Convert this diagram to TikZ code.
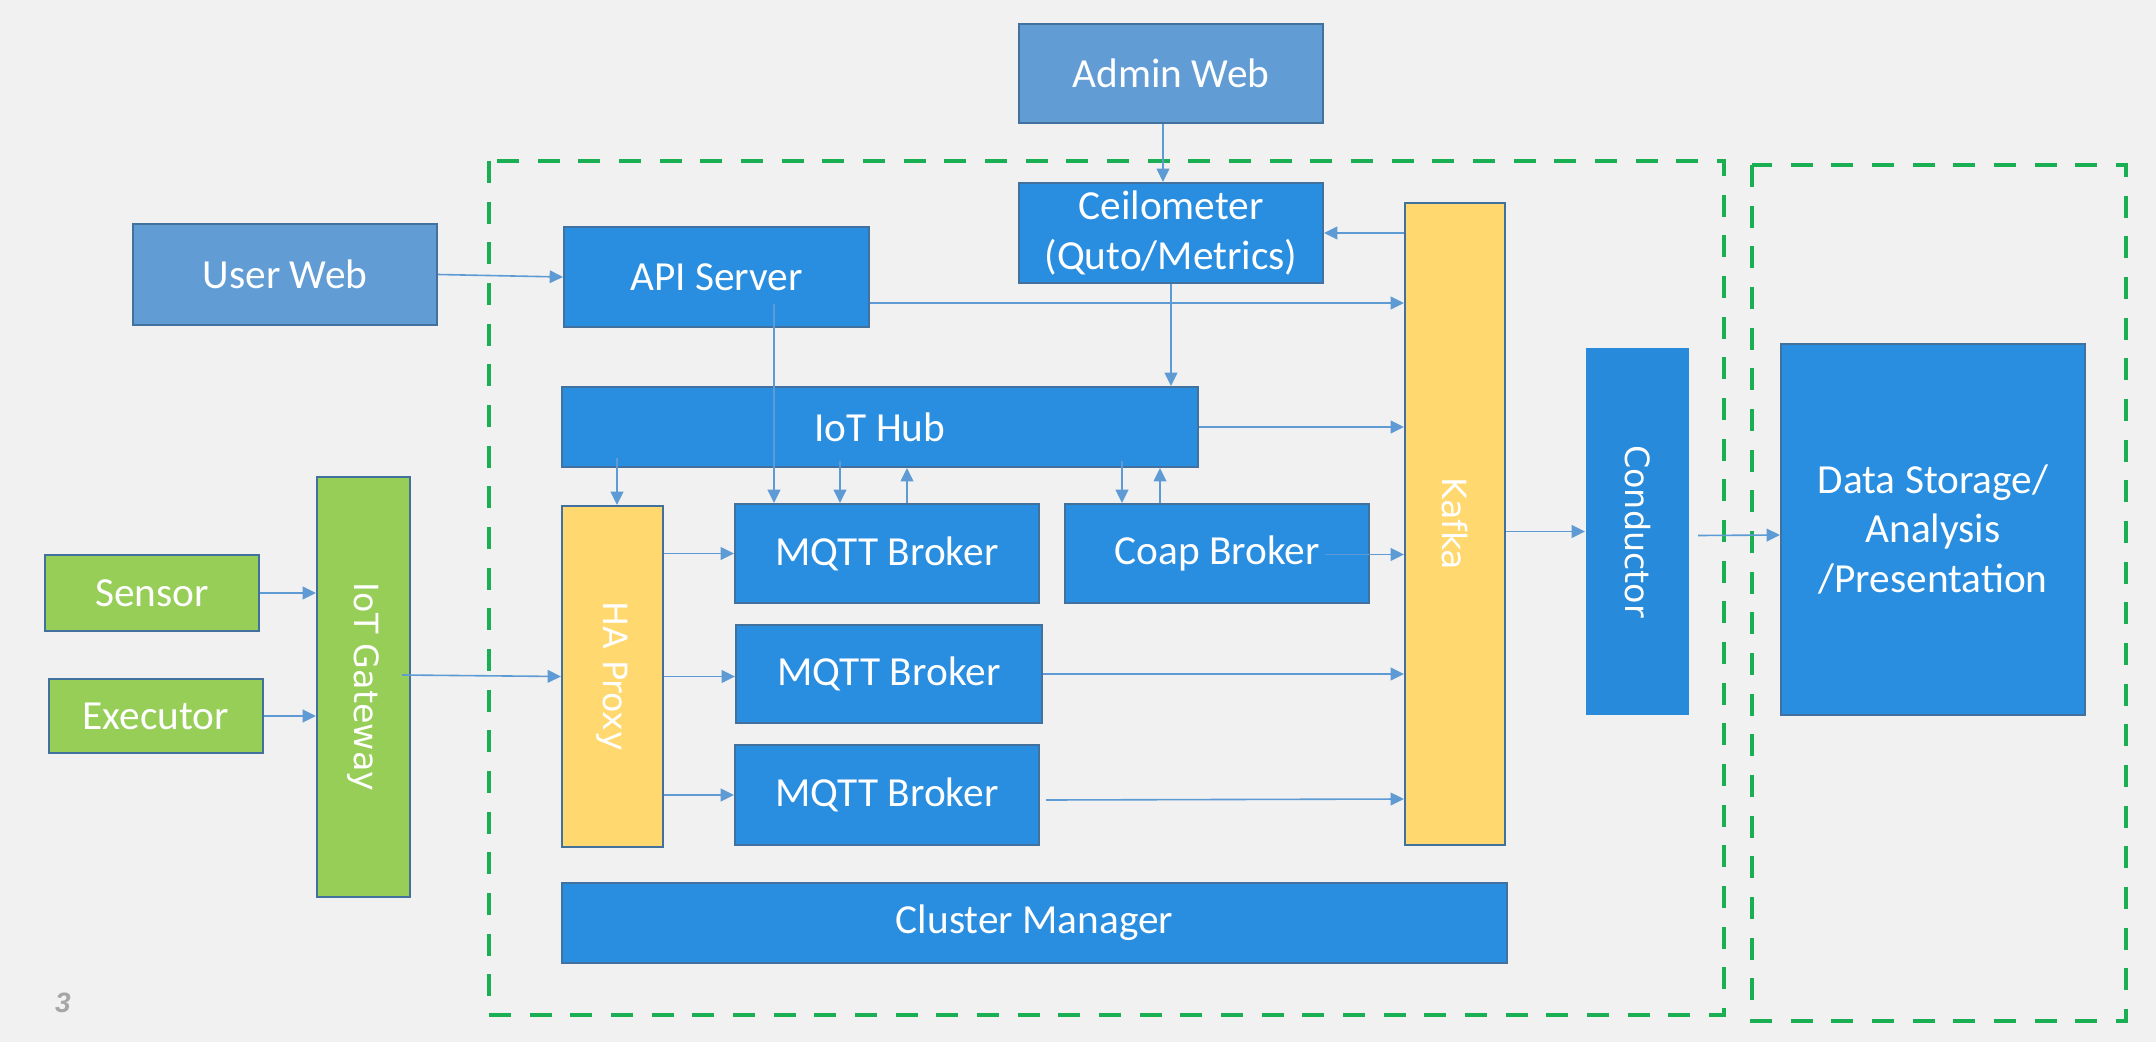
\documentclass[tikz,border=0pt]{standalone}
\usepackage{fontspec}
\setmainfont{Carlito}
\newfontfamily\vertfont{DejaVu Sans}
\newfontfamily\pagefont{Liberation Sans}
\usetikzlibrary{arrows.meta,calc}

\definecolor{pagebg}{RGB}{241,241,241}
\definecolor{boxblue}{RGB}{41,141,224}
\definecolor{condblue}{RGB}{40,138,218}
\definecolor{webblue}{RGB}{97,157,212}
\definecolor{proxyyellow}{RGB}{255,216,112}
\definecolor{devgreen}{RGB}{150,206,88}
\definecolor{boxline}{RGB}{65,113,156}
\definecolor{arrowblue}{RGB}{94,155,213}
\definecolor{dashgreen}{RGB}{27,175,84}
\definecolor{pagegray}{RGB}{166,166,166}

\tikzset{every picture/.style={line width=0.75pt}}
\tikzset{
  sz/.style 2 args={minimum width=#1*0.75pt, minimum height=#2*0.75pt},
  box/.style={draw=boxline, line width=1.5pt, fill=boxblue, text=white, align=center, inner sep=0pt,
    font=\fontsize{31}{37}\selectfont},
  webbox/.style={box, fill=webblue},
  ybox/.style={box, fill=proxyyellow},
  gbox/.style={box, fill=devgreen},
  vtext/.style={rotate=-90, text=white, inner sep=0pt, font=\vertfont\fontsize{25}{30}\selectfont},
  arr/.style={draw=arrowblue, line width=1.2pt, -{Triangle[length=10pt,width=9.5pt]}},
  grp/.style={draw=dashgreen, line width=3.5pt, dash pattern=on 16.5pt off 14pt},
}

\begin{document}
\begin{tikzpicture}[x=0.75pt,y=0.75pt,yscale=-1,xscale=1]
%set diagram left start at 0, and has height of 1042
\fill[pagebg] (0,0) rectangle (2156,1042);
\useasboundingbox (0,0) rectangle (2156,1042);

%Shape: Dashed groups
\draw[grp] (489,161) rectangle (1724,1015);
\draw[grp] (1752,165) rectangle (2126,1021);

%Shape: Web clients
\node[webbox, sz={304}{99}] (aweb) at (1171,73.5) {Admin Web};
\node[webbox, sz={304}{101}] (uweb) at (285,274.5) {User Web};

%Shape: Core services
\node[box, sz={304}{100}] (ceil) at (1171,233) {Ceilometer\\(Quto/Metrics)};
\node[box, sz={305}{100}] (api) at (716.5,277) {API Server};
\node[box, sz={636}{80}] (hub) at (880,427) {IoT Hub};
\node[box, sz={304}{99}] (mqA) at (887,553.5) {MQTT Broker};
\node[box, sz={304}{99}] (coap) at (1217,553.5) {Coap Broker};
\node[box, sz={306}{98}] (mqB) at (889,674) {MQTT Broker};
\node[box, sz={304}{100}] (mqC) at (887,795) {MQTT Broker};
\node[box, sz={945}{80}] (cluster) at (1034.5,923) {Cluster Manager};
\node[box, sz={304}{371}] (storage) at (1933,529.5) {Data Storage/\\Analysis\\/Presentation};

%Shape: Vertical bars
\node[ybox, sz={100}{642}] (kafka) at (1455,524) {};
\node[vtext] at (kafka) {Kafka};
\node[box, draw=none, fill=condblue, sz={103}{367}] (cond) at (1637.5,531.5) {};
\node[vtext] at (cond) {Conductor};
\node[ybox, sz={101}{341}] (proxy) at (612.5,676.5) {};
\node[vtext] at (proxy) {HA Proxy};
\node[gbox, sz={93}{420}] (gw) at (363.5,687) {};
\node[vtext] at (gw) {IoT Gateway};

%Shape: Devices
\node[gbox, sz={214}{76}] (sensor) at (152,593) {Sensor};
\node[gbox, sz={214}{74}] (exec) at (156,716) {Executor};

% Text Node
\node[text=pagegray, font=\pagefont\bfseries\itshape\fontsize{21}{25}\selectfont] (pageno) at (63,1003) {3};

%Arrows: top part
\draw[arr] (uweb.east) -- (api.west);
\draw[arr] ($(aweb.south)+(-8,0)$) -- ($(ceil.north)+(-8,0)$);
\draw[arr] (kafka.west |- ceil.east) -- (ceil.east);
\draw[arr] ($(api.east)+(0,26)$) coordinate (apiout) -- (apiout -| kafka.west);
\draw[arr] (ceil.south) -- (ceil.south |- hub.north);
\draw[arr] (hub.east) -- (hub.east -| kafka.west);
\draw[arr] ($(api.south west)+(211,-24)$) coordinate (apidown) -- (apidown |- mqA.north);

%Arrows: hub and brokers
\draw[arr] ($(proxy.north)+(4.5,-47)$) -- ($(proxy.north)+(4.5,0)$);
\draw[arr] ($(mqA.north west)+(106,-42)$) coordinate (hubA) -- (hubA |- mqA.north);
\draw[arr] ($(mqA.north west)+(173,0)$) coordinate (upA) -- (upA |- hub.south);
\draw[arr] ($(coap.north west)+(58,-42)$) coordinate (hubC) -- (hubC |- coap.north);
\draw[arr] ($(coap.north west)+(96,0)$) coordinate (upC) -- (upC |- hub.south);

%Arrows: devices and proxy
\draw[arr] (sensor.east) -- (sensor.east -| gw.west);
\draw[arr] (exec.east) -- (exec.east -| gw.west);
\draw[arr] ($(gw.east)+(-9,-12)$) -- (proxy.west);
\draw[arr] (mqA.west -| proxy.east) -- (mqA.west);
\draw[arr] (proxy.east) -- (proxy.east -| mqB.west);
\draw[arr] (mqC.west -| proxy.east) -- (mqC.west);

%Arrows: into kafka and out
\draw[arr] (mqB.east) -- (mqB.east -| kafka.west);
\draw[arr] ($(mqC.east)+(6,5)$) -- ($(mqC.east -| kafka.west)+(0,4)$);
\draw[arr] ($(coap.east)+(-45,1)$) coordinate (coapout) -- (coapout -| kafka.west);
\draw[arr] (cond.west -| kafka.east) -- (cond.west);
\draw[arr] ($(cond.east)+(8,4)$) -- ($(storage.west)+(0,5.5)$);
\end{tikzpicture}
\end{document}
